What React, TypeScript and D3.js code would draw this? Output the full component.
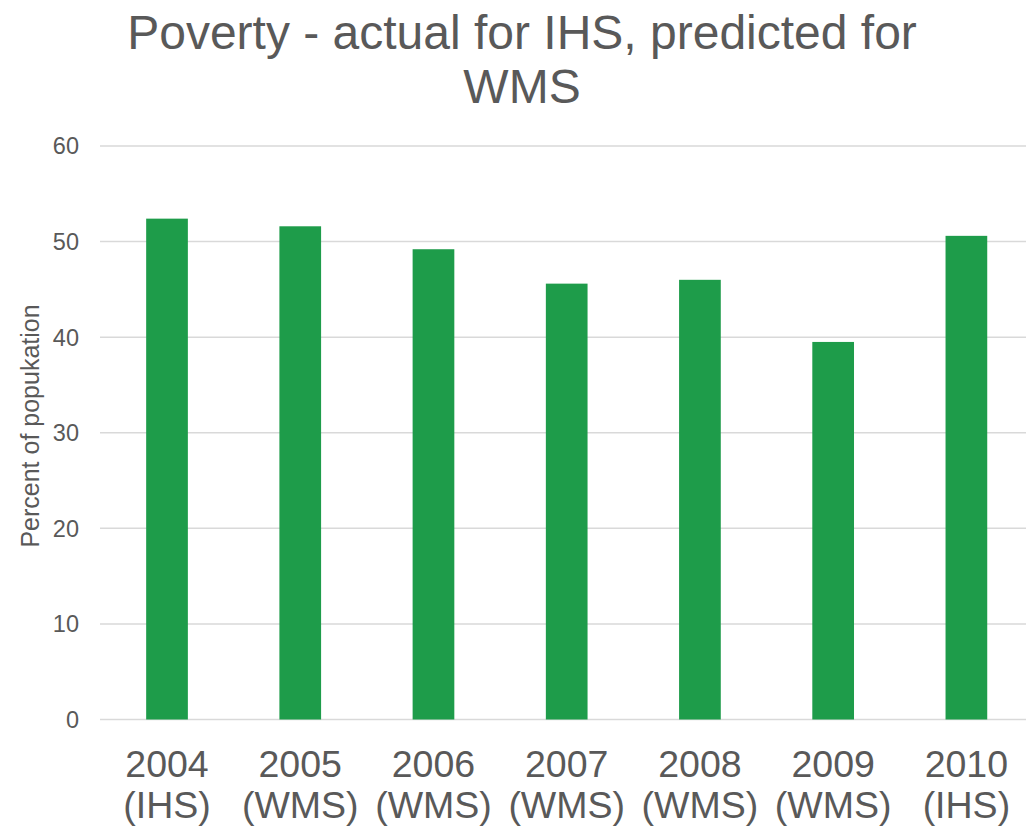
import React from "react";
import * as d3 from "d3";

const categories = ["2004|(IHS)", "2005|(WMS)", "2006|(WMS)", "2007|(WMS)", "2008|(WMS)", "2009|(WMS)", "2010|(IHS)"];
const values = [52.4, 51.6, 49.2, 45.6, 46.0, 39.5, 50.6];
const yTicks = [0, 10, 20, 30, 40, 50, 60];
const titleLines = ["Poverty - actual for IHS, predicted for", "WMS"];
const yTitle = "Percent of popukation";

const W = 1026;
const H = 827;
const FONT = "'Liberation Sans', Arial, sans-serif";
const TEXT = "#595959";

export default function App() {
  const x = d3.scaleBand<string>().domain(categories).range([100.4, 1033]).paddingInner(0.687).paddingOuter(0.3435);
  const y = d3.scaleLinear().domain([0, 60]).range([719.5, 146]);
  return (
    <svg width={W} height={H} style={{ position: "absolute", left: 0, top: 0, background: "#fff" }} fontFamily={FONT}>
      <rect width={W} height={H} fill="#fff" />
      {titleLines.map((t, i) => (
        <text key={i} x={522} y={49 + i * 54} fontSize={48} fill={TEXT} textAnchor="middle">{t}</text>
      ))}
      {yTicks.map((t) => (
        <g key={t}>
          <line x1={100} x2={1026} y1={y(t)} y2={y(t)} stroke="#d9d9d9" strokeWidth={1.5} />
          <text x={79} y={y(t)} dy="0.36em" fontSize={23.5} fill={TEXT} textAnchor="end">{t}</text>
        </g>
      ))}
      {categories.map((c, i) => (
        <rect key={c} x={x(c)} width={x.bandwidth()} y={y(values[i])} height={y(0) - y(values[i])} fill="#1e9c4a" />
      ))}
      {categories.map((c) => {
        const cx = (x(c) as number) + x.bandwidth() / 2;
        const parts = c.split("|");
        return (
          <g key={c}>
            <text x={cx} y={777} fontSize={37.5} fill={TEXT} textAnchor="middle">{parts[0]}</text>
            <text x={cx} y={818} fontSize={37.5} fill={TEXT} textAnchor="middle">{parts[1]}</text>
          </g>
        );
      })}
      <text transform={`translate(39,426) rotate(-90)`} fontSize={25} fill={TEXT} textAnchor="middle">{yTitle}</text>
    </svg>
  );
}
